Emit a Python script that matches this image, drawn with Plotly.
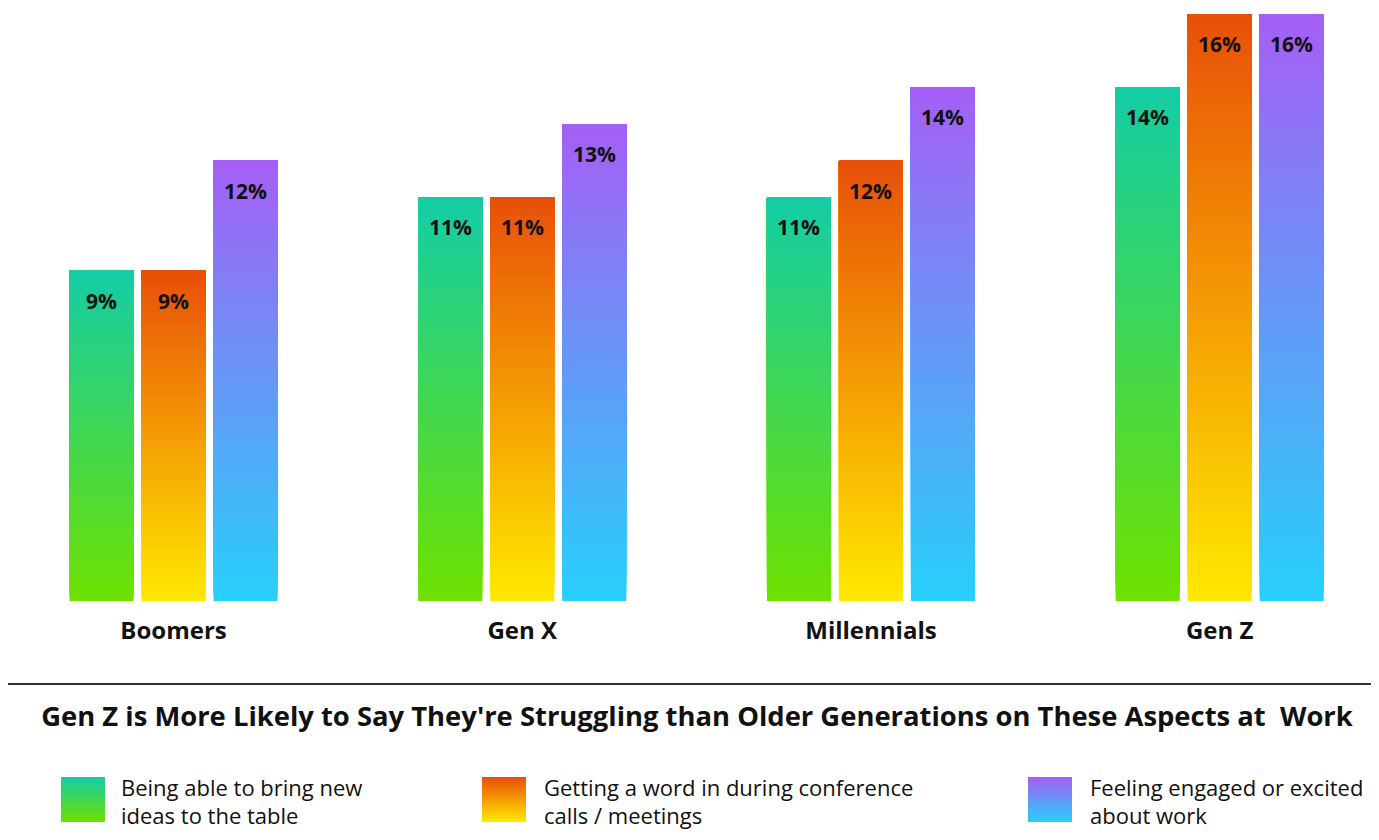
import plotly.graph_objects as go

# ---- data ----
categories = ["Boomers", "Gen X", "Millennials", "Gen Z"]
series_names = [
    "Being able to bring new ideas to the table",
    "Getting a word in during conference calls / meetings",
    "Feeling engaged or excited about work",
]
ideas_values = [9, 11, 11, 14]
word_values = [9, 11, 12, 16]
engaged_values = [12, 13, 14, 16]
legend_lines = [
    ["Being able to bring new", "ideas to the table"],
    ["Getting a word in during conference", "calls / meetings"],
    ["Feeling engaged or excited", "about work"],
]
title_text = "Gen Z is More Likely to Say They're Struggling than Older Generations on These Aspects at  Work"

# ---- style / geometry (reference pixel coordinates; page has an 8px body margin) ----
OFF = 8
W, H = 1379 - OFF, 840 - 2 * OFF
BASE_PX = 601                      # baseline, reference px
PLOT_H = BASE_PX - OFF             # plot area height in figure px
PX_PER_UNIT = 36.69
Y_MAX = PLOT_H / PX_PER_UNIT
CAT_PX = 348.7
X0 = -0.5 + (OFF + 0.8) / CAT_PX
X1 = X0 + W / CAT_PX
SLOT = 72 / CAT_PX
BAR_W = 64 / CAT_PX
FONT = "Open Sans"


def px_x(p):
    return (p - OFF) / W


def px_y(p):
    return (BASE_PX - p) / PLOT_H


gradients = [  # (bottom, top)
    ((110, 225, 0), (20, 205, 165)),
    ((255, 232, 0), (232, 80, 8)),
    ((40, 207, 250), (165, 95, 245)),
]
N_STEPS = 90


def mix(c0, c1, t):
    return "rgb(%d,%d,%d)" % tuple(round(a + (b - a) * t) for a, b in zip(c0, c1))


fig = go.Figure()
all_values = [ideas_values, word_values, engaged_values]
for k, vals in enumerate(all_values):
    xs, bases, ys, cols = [], [], [], []
    for i in range(N_STEPS):
        f = i / N_STEPS
        t = i / (N_STEPS - 1)
        for c, v in zip(categories, vals):
            xs.append(c)
            bases.append(v * f)
            ys.append(v * (1 - f))
            cols.append(mix(gradients[k][0], gradients[k][1], t))
    fig.add_trace(go.Bar(
        x=xs, y=ys, base=bases, name=series_names[k],
        width=BAR_W, offset=(k - 1) * SLOT - BAR_W / 2,
        marker=dict(color=cols, line=dict(width=0)),
        showlegend=False, hoverinfo="skip",
    ))
    for j, v in enumerate(vals):
        fig.add_annotation(
            x=j + (k - 1) * SLOT, y=v, xref="x", yref="y",
            text="<b>%d%%</b>" % v, showarrow=False,
            yanchor="middle", yshift=-30,
            font=dict(family=FONT, size=21, color="#111111"),
        )

# divider line
fig.add_shape(type="line", xref="paper", yref="paper",
              x0=-0.01, x1=1.01, y0=px_y(684), y1=px_y(684),
              line=dict(color="#333333", width=2))

# legend
swatch_x = [61, 482, 1028]
text_x = [119, 542, 1088]
SW_TOP, SW_BOT, SW_W = 777, 822, 44
n_strips = 45
for k in range(3):
    for s in range(n_strips):
        top = SW_TOP + (SW_BOT - SW_TOP) * s / n_strips
        t = 1 - s / (n_strips - 1)
        fig.add_shape(type="rect", xref="paper", yref="paper",
                      x0=px_x(swatch_x[k]), x1=px_x(swatch_x[k] + SW_W),
                      y0=px_y(top), y1=px_y(SW_BOT),
                      line=dict(width=0), fillcolor=mix(gradients[k][0], gradients[k][1], t))
    for line, yc in zip(legend_lines[k], [787, 815]):
        fig.add_annotation(x=px_x(text_x[k]), y=px_y(yc),
                           xref="paper", yref="paper", text=line, showarrow=False,
                           xanchor="left", yanchor="middle",
                           font=dict(family=FONT, size=22, color="#111111"))

fig.update_layout(
    width=W, height=H,
    margin=dict(l=0, r=0, t=0, b=H - PLOT_H),
    paper_bgcolor="white", plot_bgcolor="white",
    barmode="overlay",
    title=dict(text="<b>" + title_text + "</b>", x=px_x(697), xanchor="center",
               y=(H - (716 - OFF)) / H, yanchor="middle", yref="container",
               font=dict(family=FONT, size=27.4, color="#111111")),
    xaxis=dict(range=[X0, X1], showgrid=False, zeroline=False, showline=False,
               ticks="", ticklabelstandoff=13,
               tickfont=dict(family=FONT, size=24, color="#111111"),
               tickvals=categories, ticktext=["<b>%s</b>" % c for c in categories]),
    yaxis=dict(range=[0, Y_MAX], visible=False),
    showlegend=False,
)

fig.write_html("out.html")
